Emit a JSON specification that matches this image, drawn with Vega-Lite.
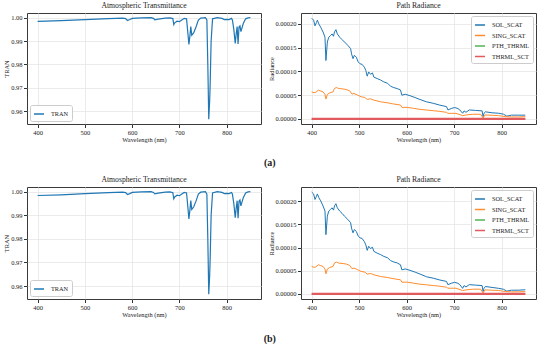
{
  "$schema": "https://vega.github.io/schema/vega-lite/v6.json",
  "padding": {"left": 3, "top": 1, "right": 0, "bottom": 0},
  "config": {
    "font": "Liberation Serif",
    "view": {"stroke": "#3a3a3a", "strokeWidth": 1},
    "axis": {"domain": false, "gridColor": "#e6e6e6", "gridWidth": 0.8, "tickColor": "#333", "tickSize": 3.5, "labelFontSize": 6.5, "labelColor": "#222", "titleFontSize": 6.4, "titleFontWeight": "normal", "titleColor": "#222", "labelPadding": 1.5, "titlePadding": 1},
    "title": {"fontSize": 7.7, "fontWeight": "normal", "color": "#222", "offset": 3},
    "legend": {"fillColor": "white", "strokeColor": "#cccccc", "cornerRadius": 2, "padding": 3, "labelFontSize": 6.3, "labelColor": "#222", "symbolType": "stroke", "symbolSize": 100, "symbolStrokeWidth": 1.5, "rowPadding": 0.5, "title": null, "offset": 3, "labelOffset": 6}
  },
  "datasets": {
    "tran": [
      {"w": 400, "v": 0.9984}, {"w": 450, "v": 0.9987}, {"w": 500, "v": 0.9992}, {"w": 550, "v": 0.9996}, {"w": 580, "v": 0.9998},
      {"w": 586, "v": 0.9996}, {"w": 590, "v": 0.9988}, {"w": 595, "v": 0.9992}, {"w": 600, "v": 0.9997}, {"w": 620, "v": 0.9999},
      {"w": 640, "v": 1.0}, {"w": 645, "v": 0.9997}, {"w": 648, "v": 0.9991}, {"w": 655, "v": 0.9994}, {"w": 670, "v": 0.9998},
      {"w": 680, "v": 0.9999}, {"w": 686, "v": 0.9996}, {"w": 688, "v": 0.997}, {"w": 690, "v": 0.9978}, {"w": 695, "v": 0.9985},
      {"w": 700, "v": 0.9983}, {"w": 705, "v": 0.999}, {"w": 710, "v": 0.9997}, {"w": 715, "v": 0.9995}, {"w": 718, "v": 0.993},
      {"w": 720, "v": 0.9885}, {"w": 722, "v": 0.992}, {"w": 724, "v": 0.9962}, {"w": 726, "v": 0.9925}, {"w": 730, "v": 0.9935},
      {"w": 735, "v": 0.996}, {"w": 740, "v": 0.999}, {"w": 745, "v": 0.9998}, {"w": 755, "v": 1.0}, {"w": 758, "v": 0.999},
      {"w": 760, "v": 0.98}, {"w": 762, "v": 0.9565}, {"w": 764, "v": 0.965}, {"w": 765, "v": 0.972}, {"w": 767, "v": 0.99},
      {"w": 770, "v": 0.9995}, {"w": 780, "v": 1.0}, {"w": 790, "v": 0.9997}, {"w": 795, "v": 0.9992}, {"w": 800, "v": 0.9993},
      {"w": 805, "v": 0.9992}, {"w": 810, "v": 0.9997}, {"w": 812, "v": 0.999}, {"w": 815, "v": 0.995}, {"w": 818, "v": 0.989},
      {"w": 820, "v": 0.993}, {"w": 822, "v": 0.9962}, {"w": 824, "v": 0.9888}, {"w": 826, "v": 0.996}, {"w": 828, "v": 0.9965},
      {"w": 830, "v": 0.994}, {"w": 835, "v": 0.9975}, {"w": 840, "v": 0.9995}, {"w": 845, "v": 0.9999}, {"w": 850, "v": 1.0}
    ],
    "radA": [
      {"s": "SOL_SCAT", "w": 400, "v": 0.000212}, {"s": "SOL_SCAT", "w": 404, "v": 0.000208}, {"s": "SOL_SCAT", "w": 407, "v": 0.000196},
      {"s": "SOL_SCAT", "w": 410, "v": 0.000203}, {"s": "SOL_SCAT", "w": 412, "v": 0.000208}, {"s": "SOL_SCAT", "w": 415, "v": 0.0002},
      {"s": "SOL_SCAT", "w": 419, "v": 0.000193}, {"s": "SOL_SCAT", "w": 424, "v": 0.000183}, {"s": "SOL_SCAT", "w": 428, "v": 0.000172},
      {"s": "SOL_SCAT", "w": 430, "v": 0.000123}, {"s": "SOL_SCAT", "w": 433, "v": 0.000162}, {"s": "SOL_SCAT", "w": 436, "v": 0.000172},
      {"s": "SOL_SCAT", "w": 440, "v": 0.000176}, {"s": "SOL_SCAT", "w": 443, "v": 0.000179}, {"s": "SOL_SCAT", "w": 446, "v": 0.000174},
      {"s": "SOL_SCAT", "w": 448, "v": 0.000183}, {"s": "SOL_SCAT", "w": 451, "v": 0.000188}, {"s": "SOL_SCAT", "w": 454, "v": 0.000179},
      {"s": "SOL_SCAT", "w": 459, "v": 0.000172}, {"s": "SOL_SCAT", "w": 464, "v": 0.000167}, {"s": "SOL_SCAT", "w": 469, "v": 0.000162},
      {"s": "SOL_SCAT", "w": 476, "v": 0.000155}, {"s": "SOL_SCAT", "w": 482, "v": 0.000148}, {"s": "SOL_SCAT", "w": 484, "v": 0.000137},
      {"s": "SOL_SCAT", "w": 487, "v": 0.000127}, {"s": "SOL_SCAT", "w": 490, "v": 0.000134}, {"s": "SOL_SCAT", "w": 494, "v": 0.00013},
      {"s": "SOL_SCAT", "w": 498, "v": 0.00012}, {"s": "SOL_SCAT", "w": 502, "v": 0.000116}, {"s": "SOL_SCAT", "w": 506, "v": 0.000115},
      {"s": "SOL_SCAT", "w": 511, "v": 0.000109}, {"s": "SOL_SCAT", "w": 514, "v": 0.000102}, {"s": "SOL_SCAT", "w": 517, "v": 0.00009},
      {"s": "SOL_SCAT", "w": 520, "v": 0.000099}, {"s": "SOL_SCAT", "w": 524, "v": 0.000094}, {"s": "SOL_SCAT", "w": 528, "v": 0.000097},
      {"s": "SOL_SCAT", "w": 531, "v": 0.000088}, {"s": "SOL_SCAT", "w": 538, "v": 0.000085}, {"s": "SOL_SCAT", "w": 545, "v": 0.000082},
      {"s": "SOL_SCAT", "w": 552, "v": 0.000078}, {"s": "SOL_SCAT", "w": 560, "v": 0.000075}, {"s": "SOL_SCAT", "w": 566, "v": 0.000069},
      {"s": "SOL_SCAT", "w": 573, "v": 0.000066}, {"s": "SOL_SCAT", "w": 580, "v": 0.000064}, {"s": "SOL_SCAT", "w": 587, "v": 0.000061},
      {"s": "SOL_SCAT", "w": 590, "v": 0.00005}, {"s": "SOL_SCAT", "w": 597, "v": 0.000052}, {"s": "SOL_SCAT", "w": 607, "v": 0.000049},
      {"s": "SOL_SCAT", "w": 618, "v": 0.000045}, {"s": "SOL_SCAT", "w": 628, "v": 0.000041}, {"s": "SOL_SCAT", "w": 642, "v": 0.000036},
      {"s": "SOL_SCAT", "w": 656, "v": 0.000033}, {"s": "SOL_SCAT", "w": 670, "v": 0.000029}, {"s": "SOL_SCAT", "w": 684, "v": 0.000026},
      {"s": "SOL_SCAT", "w": 687, "v": 0.000019}, {"s": "SOL_SCAT", "w": 694, "v": 0.000022}, {"s": "SOL_SCAT", "w": 701, "v": 0.000024},
      {"s": "SOL_SCAT", "w": 708, "v": 0.000022}, {"s": "SOL_SCAT", "w": 712, "v": 0.000019}, {"s": "SOL_SCAT", "w": 718, "v": 0.000012},
      {"s": "SOL_SCAT", "w": 721, "v": 0.000017}, {"s": "SOL_SCAT", "w": 725, "v": 0.000014}, {"s": "SOL_SCAT", "w": 732, "v": 0.000019},
      {"s": "SOL_SCAT", "w": 745, "v": 0.000018}, {"s": "SOL_SCAT", "w": 759, "v": 0.000017}, {"s": "SOL_SCAT", "w": 761, "v": 0.000005},
      {"s": "SOL_SCAT", "w": 763, "v": 0.000012}, {"s": "SOL_SCAT", "w": 766, "v": 0.000015}, {"s": "SOL_SCAT", "w": 780, "v": 0.000013},
      {"s": "SOL_SCAT", "w": 794, "v": 0.000012}, {"s": "SOL_SCAT", "w": 804, "v": 0.00001}, {"s": "SOL_SCAT", "w": 811, "v": 0.000006},
      {"s": "SOL_SCAT", "w": 821, "v": 0.000008}, {"s": "SOL_SCAT", "w": 835, "v": 0.000008}, {"s": "SOL_SCAT", "w": 850, "v": 0.000008},
      {"s": "SING_SCAT", "w": 400, "v": 0.0000571}, {"s": "SING_SCAT", "w": 405, "v": 0.000055}, {"s": "SING_SCAT", "w": 409, "v": 0.0000564},
      {"s": "SING_SCAT", "w": 414, "v": 0.0000606}, {"s": "SING_SCAT", "w": 418, "v": 0.0000592}, {"s": "SING_SCAT", "w": 424, "v": 0.000057},
      {"s": "SING_SCAT", "w": 428, "v": 0.0000516}, {"s": "SING_SCAT", "w": 430, "v": 0.0000418}, {"s": "SING_SCAT", "w": 433, "v": 0.0000516},
      {"s": "SING_SCAT", "w": 438, "v": 0.000055}, {"s": "SING_SCAT", "w": 445, "v": 0.000057}, {"s": "SING_SCAT", "w": 448, "v": 0.0000641},
      {"s": "SING_SCAT", "w": 452, "v": 0.0000662}, {"s": "SING_SCAT", "w": 457, "v": 0.000064}, {"s": "SING_SCAT", "w": 464, "v": 0.0000634},
      {"s": "SING_SCAT", "w": 473, "v": 0.000062}, {"s": "SING_SCAT", "w": 480, "v": 0.0000592}, {"s": "SING_SCAT", "w": 485, "v": 0.0000523},
      {"s": "SING_SCAT", "w": 489, "v": 0.0000537}, {"s": "SING_SCAT", "w": 497, "v": 0.0000502}, {"s": "SING_SCAT", "w": 504, "v": 0.0000467},
      {"s": "SING_SCAT", "w": 512, "v": 0.0000453}, {"s": "SING_SCAT", "w": 517, "v": 0.0000411}, {"s": "SING_SCAT", "w": 524, "v": 0.0000425},
      {"s": "SING_SCAT", "w": 531, "v": 0.0000397}, {"s": "SING_SCAT", "w": 545, "v": 0.0000362}, {"s": "SING_SCAT", "w": 559, "v": 0.0000341},
      {"s": "SING_SCAT", "w": 573, "v": 0.0000314}, {"s": "SING_SCAT", "w": 587, "v": 0.0000293}, {"s": "SING_SCAT", "w": 590, "v": 0.0000244},
      {"s": "SING_SCAT", "w": 601, "v": 0.0000244}, {"s": "SING_SCAT", "w": 615, "v": 0.0000223}, {"s": "SING_SCAT", "w": 628, "v": 0.0000202},
      {"s": "SING_SCAT", "w": 642, "v": 0.0000188}, {"s": "SING_SCAT", "w": 656, "v": 0.0000174}, {"s": "SING_SCAT", "w": 670, "v": 0.000016},
      {"s": "SING_SCAT", "w": 684, "v": 0.0000139}, {"s": "SING_SCAT", "w": 687, "v": 0.0000118}, {"s": "SING_SCAT", "w": 704, "v": 0.0000118},
      {"s": "SING_SCAT", "w": 718, "v": 0.000007}, {"s": "SING_SCAT", "w": 725, "v": 0.0000084}, {"s": "SING_SCAT", "w": 739, "v": 0.0000098},
      {"s": "SING_SCAT", "w": 756, "v": 0.0000098}, {"s": "SING_SCAT", "w": 761, "v": 0.000002}, {"s": "SING_SCAT", "w": 765, "v": 0.0000084},
      {"s": "SING_SCAT", "w": 780, "v": 0.0000077}, {"s": "SING_SCAT", "w": 794, "v": 0.000007}, {"s": "SING_SCAT", "w": 808, "v": 0.0000049},
      {"s": "SING_SCAT", "w": 821, "v": 0.0000042}, {"s": "SING_SCAT", "w": 835, "v": 0.0000042}, {"s": "SING_SCAT", "w": 850, "v": 0.0000049},
      {"s": "PTH_THRML", "w": 400, "v": 0}, {"s": "PTH_THRML", "w": 850, "v": 0},
      {"s": "THRML_SCT", "w": 400, "v": 0}, {"s": "THRML_SCT", "w": 850, "v": 0}
    ],
    "radB": [
      {"s": "SOL_SCAT", "w": 400, "v": 0.00022}, {"s": "SOL_SCAT", "w": 404, "v": 0.000216}, {"s": "SOL_SCAT", "w": 407, "v": 0.000204},
      {"s": "SOL_SCAT", "w": 410, "v": 0.000211}, {"s": "SOL_SCAT", "w": 412, "v": 0.000216}, {"s": "SOL_SCAT", "w": 415, "v": 0.000208},
      {"s": "SOL_SCAT", "w": 419, "v": 0.000201}, {"s": "SOL_SCAT", "w": 424, "v": 0.00019}, {"s": "SOL_SCAT", "w": 428, "v": 0.000179},
      {"s": "SOL_SCAT", "w": 430, "v": 0.000128}, {"s": "SOL_SCAT", "w": 433, "v": 0.000168}, {"s": "SOL_SCAT", "w": 436, "v": 0.000179},
      {"s": "SOL_SCAT", "w": 440, "v": 0.000183}, {"s": "SOL_SCAT", "w": 443, "v": 0.000186}, {"s": "SOL_SCAT", "w": 446, "v": 0.000181},
      {"s": "SOL_SCAT", "w": 448, "v": 0.00019}, {"s": "SOL_SCAT", "w": 451, "v": 0.000195}, {"s": "SOL_SCAT", "w": 454, "v": 0.000186},
      {"s": "SOL_SCAT", "w": 459, "v": 0.000179}, {"s": "SOL_SCAT", "w": 464, "v": 0.000174}, {"s": "SOL_SCAT", "w": 469, "v": 0.000168},
      {"s": "SOL_SCAT", "w": 476, "v": 0.000161}, {"s": "SOL_SCAT", "w": 482, "v": 0.000154}, {"s": "SOL_SCAT", "w": 484, "v": 0.000142},
      {"s": "SOL_SCAT", "w": 487, "v": 0.000132}, {"s": "SOL_SCAT", "w": 490, "v": 0.000139}, {"s": "SOL_SCAT", "w": 494, "v": 0.000135},
      {"s": "SOL_SCAT", "w": 498, "v": 0.000125}, {"s": "SOL_SCAT", "w": 502, "v": 0.000121}, {"s": "SOL_SCAT", "w": 506, "v": 0.00012},
      {"s": "SOL_SCAT", "w": 511, "v": 0.000113}, {"s": "SOL_SCAT", "w": 514, "v": 0.000106}, {"s": "SOL_SCAT", "w": 517, "v": 0.000094},
      {"s": "SOL_SCAT", "w": 520, "v": 0.000103}, {"s": "SOL_SCAT", "w": 524, "v": 0.000098}, {"s": "SOL_SCAT", "w": 528, "v": 0.000101},
      {"s": "SOL_SCAT", "w": 531, "v": 0.000092}, {"s": "SOL_SCAT", "w": 538, "v": 0.000088}, {"s": "SOL_SCAT", "w": 545, "v": 0.000085},
      {"s": "SOL_SCAT", "w": 552, "v": 0.000081}, {"s": "SOL_SCAT", "w": 560, "v": 0.000078}, {"s": "SOL_SCAT", "w": 566, "v": 0.000072},
      {"s": "SOL_SCAT", "w": 573, "v": 0.000069}, {"s": "SOL_SCAT", "w": 580, "v": 0.000067}, {"s": "SOL_SCAT", "w": 587, "v": 0.000063},
      {"s": "SOL_SCAT", "w": 590, "v": 0.000052}, {"s": "SOL_SCAT", "w": 597, "v": 0.000054}, {"s": "SOL_SCAT", "w": 607, "v": 0.000051},
      {"s": "SOL_SCAT", "w": 618, "v": 0.000047}, {"s": "SOL_SCAT", "w": 628, "v": 0.000043}, {"s": "SOL_SCAT", "w": 642, "v": 0.000037},
      {"s": "SOL_SCAT", "w": 656, "v": 0.000034}, {"s": "SOL_SCAT", "w": 670, "v": 0.00003}, {"s": "SOL_SCAT", "w": 684, "v": 0.000027},
      {"s": "SOL_SCAT", "w": 687, "v": 0.00002}, {"s": "SOL_SCAT", "w": 694, "v": 0.000023}, {"s": "SOL_SCAT", "w": 701, "v": 0.000025},
      {"s": "SOL_SCAT", "w": 708, "v": 0.000023}, {"s": "SOL_SCAT", "w": 712, "v": 0.00002}, {"s": "SOL_SCAT", "w": 718, "v": 0.000012},
      {"s": "SOL_SCAT", "w": 721, "v": 0.000018}, {"s": "SOL_SCAT", "w": 725, "v": 0.000015}, {"s": "SOL_SCAT", "w": 732, "v": 0.00002},
      {"s": "SOL_SCAT", "w": 745, "v": 0.000019}, {"s": "SOL_SCAT", "w": 759, "v": 0.000018}, {"s": "SOL_SCAT", "w": 761, "v": 0.000005},
      {"s": "SOL_SCAT", "w": 763, "v": 0.000012}, {"s": "SOL_SCAT", "w": 766, "v": 0.000016}, {"s": "SOL_SCAT", "w": 780, "v": 0.000014},
      {"s": "SOL_SCAT", "w": 794, "v": 0.000012}, {"s": "SOL_SCAT", "w": 804, "v": 0.00001}, {"s": "SOL_SCAT", "w": 811, "v": 0.000006},
      {"s": "SOL_SCAT", "w": 821, "v": 0.000008}, {"s": "SOL_SCAT", "w": 835, "v": 0.000008}, {"s": "SOL_SCAT", "w": 850, "v": 0.000009},
      {"s": "SING_SCAT", "w": 400, "v": 0.0000594}, {"s": "SING_SCAT", "w": 405, "v": 0.0000572}, {"s": "SING_SCAT", "w": 409, "v": 0.0000587},
      {"s": "SING_SCAT", "w": 414, "v": 0.000063}, {"s": "SING_SCAT", "w": 418, "v": 0.0000616}, {"s": "SING_SCAT", "w": 424, "v": 0.0000593},
      {"s": "SING_SCAT", "w": 428, "v": 0.0000537}, {"s": "SING_SCAT", "w": 430, "v": 0.0000435}, {"s": "SING_SCAT", "w": 433, "v": 0.0000537},
      {"s": "SING_SCAT", "w": 438, "v": 0.0000572}, {"s": "SING_SCAT", "w": 445, "v": 0.0000593}, {"s": "SING_SCAT", "w": 448, "v": 0.0000667},
      {"s": "SING_SCAT", "w": 452, "v": 0.0000688}, {"s": "SING_SCAT", "w": 457, "v": 0.0000666}, {"s": "SING_SCAT", "w": 464, "v": 0.0000659},
      {"s": "SING_SCAT", "w": 473, "v": 0.0000645}, {"s": "SING_SCAT", "w": 480, "v": 0.0000616}, {"s": "SING_SCAT", "w": 485, "v": 0.0000544},
      {"s": "SING_SCAT", "w": 489, "v": 0.0000558}, {"s": "SING_SCAT", "w": 497, "v": 0.0000522}, {"s": "SING_SCAT", "w": 504, "v": 0.0000486},
      {"s": "SING_SCAT", "w": 512, "v": 0.0000471}, {"s": "SING_SCAT", "w": 517, "v": 0.0000427}, {"s": "SING_SCAT", "w": 524, "v": 0.0000442},
      {"s": "SING_SCAT", "w": 531, "v": 0.0000413}, {"s": "SING_SCAT", "w": 545, "v": 0.0000376}, {"s": "SING_SCAT", "w": 559, "v": 0.0000355},
      {"s": "SING_SCAT", "w": 573, "v": 0.0000327}, {"s": "SING_SCAT", "w": 587, "v": 0.0000305}, {"s": "SING_SCAT", "w": 590, "v": 0.0000254},
      {"s": "SING_SCAT", "w": 601, "v": 0.0000254}, {"s": "SING_SCAT", "w": 615, "v": 0.0000232}, {"s": "SING_SCAT", "w": 628, "v": 0.000021},
      {"s": "SING_SCAT", "w": 642, "v": 0.0000196}, {"s": "SING_SCAT", "w": 656, "v": 0.0000181}, {"s": "SING_SCAT", "w": 670, "v": 0.0000166},
      {"s": "SING_SCAT", "w": 684, "v": 0.0000145}, {"s": "SING_SCAT", "w": 687, "v": 0.0000123}, {"s": "SING_SCAT", "w": 704, "v": 0.0000123},
      {"s": "SING_SCAT", "w": 718, "v": 0.0000073}, {"s": "SING_SCAT", "w": 725, "v": 0.0000087}, {"s": "SING_SCAT", "w": 739, "v": 0.0000102},
      {"s": "SING_SCAT", "w": 756, "v": 0.0000102}, {"s": "SING_SCAT", "w": 761, "v": 0.0000021}, {"s": "SING_SCAT", "w": 765, "v": 0.0000087},
      {"s": "SING_SCAT", "w": 780, "v": 0.000008}, {"s": "SING_SCAT", "w": 794, "v": 0.0000073}, {"s": "SING_SCAT", "w": 808, "v": 0.0000051},
      {"s": "SING_SCAT", "w": 821, "v": 0.0000044}, {"s": "SING_SCAT", "w": 835, "v": 0.0000044}, {"s": "SING_SCAT", "w": 850, "v": 0.0000051},
      {"s": "PTH_THRML", "w": 400, "v": 0}, {"s": "PTH_THRML", "w": 850, "v": 0},
      {"s": "THRML_SCT", "w": 400, "v": 0}, {"s": "THRML_SCT", "w": 850, "v": 0}
    ]
  },
  "vconcat": [
    {
      "title": {"text": "(a)", "orient": "bottom", "anchor": "middle", "fontSize": 10, "fontWeight": "bold", "offset": 15},
      "bounds": "flush",
      "spacing": 40,
      "resolve": {"scale": {"color": "independent", "x": "independent", "y": "independent"}, "legend": {"color": "independent"}},
      "hconcat": [
        {
          "title": "Atmospheric Transmittance",
          "width": 234, "height": 111,
          "data": {"name": "tran"},
          "mark": {"type": "line", "strokeWidth": 1.2, "clip": true},
          "encoding": {
            "x": {"field": "w", "type": "quantitative", "scale": {"domain": [377.5, 872.5], "nice": false, "zero": false}, "axis": {"title": "Wavelength (nm)", "values": [400, 500, 600, 700, 800]}},
            "y": {"field": "v", "type": "quantitative", "scale": {"domain": [0.9545, 1.002], "nice": false, "zero": false}, "axis": {"title": "TRAN", "values": [0.96, 0.97, 0.98, 0.99, 1.0], "format": ".2f"}},
            "color": {"datum": "TRAN", "scale": {"range": ["#1f77b4"]}, "legend": {"orient": "bottom-left"}}
          }
        },
        {
          "title": "Path Radiance",
          "width": 235, "height": 111,
          "data": {"name": "radA"},
          "encoding": {
            "x": {"field": "w", "type": "quantitative", "scale": {"domain": [377.5, 872.5], "nice": false, "zero": false}, "axis": {"title": "Wavelength (nm)", "values": [400, 500, 600, 700, 800]}},
            "y": {"field": "v", "type": "quantitative", "scale": {"domain": [-0.0000106, 0.000223], "nice": false, "zero": false}, "axis": {"title": "Radiance", "values": [0, 0.00005, 0.0001, 0.00015, 0.0002], "format": ".5f", "titlePadding": 0}},
            "color": {"field": "s", "type": "nominal", "sort": null, "scale": {"domain": ["SOL_SCAT", "SING_SCAT", "PTH_THRML", "THRML_SCT"], "range": ["#1f77b4", "#ff8d2e", "#52b352", "#e15a5e"]}, "legend": {"orient": "top-right"}}
          },
          "layer": [
            {"transform": [{"filter": "datum.s !== 'THRML_SCT'"}], "mark": {"type": "line", "clip": true, "strokeWidth": 1}},
            {"transform": [{"filter": "datum.s === 'THRML_SCT'"}], "mark": {"type": "line", "clip": true, "strokeWidth": 2.2}}
          ]
        }
      ]
    },
    {
      "title": {"text": "(b)", "orient": "bottom", "anchor": "middle", "fontSize": 10, "fontWeight": "bold", "offset": 16},
      "bounds": "flush",
      "spacing": 40,
      "resolve": {"scale": {"color": "independent", "x": "independent", "y": "independent"}, "legend": {"color": "independent"}},
      "hconcat": [
        {
          "title": "Atmospheric Transmittance",
          "width": 234, "height": 112,
          "data": {"name": "tran"},
          "mark": {"type": "line", "strokeWidth": 1.2, "clip": true},
          "encoding": {
            "x": {"field": "w", "type": "quantitative", "scale": {"domain": [377.5, 872.5], "nice": false, "zero": false}, "axis": {"title": "Wavelength (nm)", "values": [400, 500, 600, 700, 800]}},
            "y": {"field": "v", "type": "quantitative", "scale": {"domain": [0.9545, 1.002], "nice": false, "zero": false}, "axis": {"title": "TRAN", "values": [0.96, 0.97, 0.98, 0.99, 1.0], "format": ".2f"}},
            "color": {"datum": "TRAN", "scale": {"range": ["#1f77b4"]}, "legend": {"orient": "bottom-left"}}
          }
        },
        {
          "title": "Path Radiance",
          "width": 235, "height": 112,
          "data": {"name": "radB"},
          "encoding": {
            "x": {"field": "w", "type": "quantitative", "scale": {"domain": [377.5, 872.5], "nice": false, "zero": false}, "axis": {"title": "Wavelength (nm)", "values": [400, 500, 600, 700, 800]}},
            "y": {"field": "v", "type": "quantitative", "scale": {"domain": [-0.000011, 0.000231], "nice": false, "zero": false}, "axis": {"title": "Radiance", "values": [0, 0.00005, 0.0001, 0.00015, 0.0002], "format": ".5f", "titlePadding": 0}},
            "color": {"field": "s", "type": "nominal", "sort": null, "scale": {"domain": ["SOL_SCAT", "SING_SCAT", "PTH_THRML", "THRML_SCT"], "range": ["#1f77b4", "#ff8d2e", "#52b352", "#e15a5e"]}, "legend": {"orient": "top-right"}}
          },
          "layer": [
            {"transform": [{"filter": "datum.s !== 'THRML_SCT'"}], "mark": {"type": "line", "clip": true, "strokeWidth": 1}},
            {"transform": [{"filter": "datum.s === 'THRML_SCT'"}], "mark": {"type": "line", "clip": true, "strokeWidth": 2.2}}
          ]
        }
      ]
    }
  ],
  "spacing": 6,
  "resolve": {"scale": {"color": "independent", "x": "independent", "y": "independent"}, "legend": {"color": "independent"}}
}
